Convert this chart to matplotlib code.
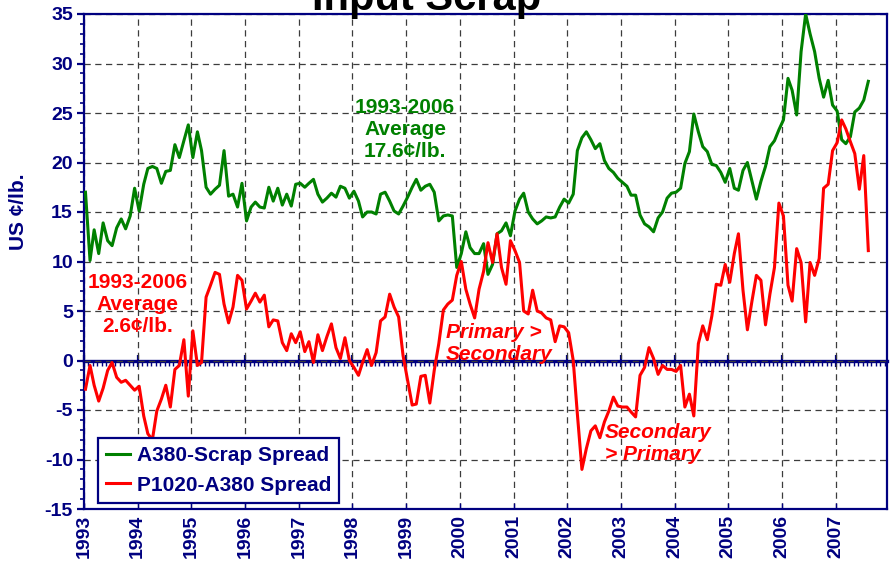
import numpy as np
import pandas as pd
import matplotlib
matplotlib.use("Agg")
import matplotlib.pyplot as plt
from matplotlib.ticker import MultipleLocator, FixedLocator, NullFormatter

# ---------------- data (monthly, Jan 1993 - Aug 2007, US cents/lb) ----------------
a380_scrap = [
    17.0, 10.1, 13.2, 10.8, 13.9, 12.1, 11.6, 13.4, 14.3, 13.3, 14.6, 17.4,   # 1993
    15.1, 17.8, 19.4, 19.6, 19.4, 17.9, 19.1, 19.2, 21.8, 20.5, 22.2, 23.8,   # 1994
    20.5, 23.1, 21.2, 17.5, 16.8, 17.3, 17.7, 21.2, 16.6, 16.8, 15.5, 17.9,   # 1995
    14.1, 15.5, 16.0, 15.5, 15.4, 17.5, 16.1, 17.4, 15.7, 16.8, 15.6, 17.8,   # 1996
    17.9, 17.5, 17.9, 18.3, 16.8, 16.0, 16.4, 16.9, 16.5, 17.6, 17.4, 16.4,   # 1997
    17.1, 16.1, 14.5, 15.0, 15.0, 14.8, 16.8, 17.0, 16.1, 15.1, 14.8, 15.6,   # 1998
    16.5, 17.5, 18.3, 17.2, 17.6, 17.8, 17.0, 14.1, 14.6, 14.7, 14.6, 9.4,    # 1999
    10.8, 13.0, 11.4, 10.8, 10.8, 11.8, 8.7, 9.7, 12.8, 13.1, 13.9, 12.6,     # 2000
    15.1, 16.3, 16.9, 15.0, 14.3, 13.8, 14.1, 14.5, 14.4, 14.5, 15.5, 16.3,   # 2001
    15.9, 16.8, 21.2, 22.5, 23.1, 22.3, 21.4, 21.9, 20.2, 19.4, 19.0, 18.4,   # 2002
    18.0, 17.6, 16.7, 16.7, 14.7, 13.8, 13.5, 13.0, 14.4, 15.0, 16.4, 16.9,   # 2003
    17.0, 17.4, 19.9, 21.1, 24.9, 23.1, 21.6, 21.1, 19.8, 19.7, 19.0, 18.0,   # 2004
    19.4, 17.4, 17.2, 19.2, 20.0, 18.1, 16.3, 18.1, 19.6, 21.6, 22.2, 23.3,   # 2005
    24.3, 28.5, 27.3, 24.8, 31.2, 35.0, 33.0, 31.2, 28.5, 26.6, 28.3, 25.8,   # 2006
    25.2, 22.3, 21.9, 22.6, 25.1, 25.5, 26.3, 28.2,                           # 2007
]
p1020_a380 = [
    -2.9, -0.5, -2.5, -4.1, -2.8, -1.0, -0.2, -1.7, -2.2, -2.0, -2.5, -3.0,   # 1993
    -2.6, -5.6, -7.4, -8.0, -5.1, -3.9, -2.5, -4.7, -0.9, -0.5, 2.1, -3.6,    # 1994
    3.0, -0.5, -0.2, 6.4, 7.6, 8.9, 8.7, 5.7, 3.8, 5.4, 8.6, 8.1,             # 1995
    5.2, 6.0, 6.8, 5.9, 6.6, 3.4, 4.1, 4.0, 1.8, 1.0, 2.7, 1.8,               # 1996
    2.9, 0.9, 1.9, -0.2, 2.6, 1.0, 2.4, 3.7, 1.3, 0.2, 2.3, 0.0,              # 1997
    -0.7, -1.5, -0.2, 1.1, -0.5, 0.8, 4.0, 4.4, 6.7, 5.4, 4.4, 0.5,           # 1998
    -2.0, -4.5, -4.4, -1.6, -1.5, -4.3, -1.0, 1.7, 5.1, 5.7, 6.1, 8.6,        # 1999
    10.0, 7.2, 5.7, 4.3, 7.2, 9.0, 11.9, 9.9, 12.8, 9.4, 7.7, 12.1,           # 2000
    11.1, 9.9, 5.0, 4.7, 7.1, 5.0, 4.8, 4.3, 4.1, 1.9, 3.5, 3.4,              # 2001
    2.8, 0.0, -5.4, -11.0, -8.9, -7.1, -6.6, -7.8, -6.2, -5.1, -3.7, -4.6,    # 2002
    -4.7, -4.7, -5.2, -5.7, -1.5, -0.7, 1.3, 0.2, -1.4, -0.5, -0.9, -0.9,     # 2003
    -1.1, -0.5, -4.7, -3.4, -5.6, 1.7, 3.5, 2.1, 4.5, 7.7, 7.6, 9.7,          # 2004
    7.9, 10.8, 12.8, 7.1, 3.1, 6.0, 8.6, 8.1, 3.6, 6.7, 9.4, 15.9,            # 2005
    14.6, 7.6, 6.0, 11.3, 9.9, 3.9, 9.9, 8.6, 10.3, 17.4, 17.8, 21.2,         # 2006
    22.0, 24.3, 23.4, 22.1, 20.9, 17.3, 20.7, 11.1,                           # 2007
]
series_names = ["A380-Scrap Spread", "P1020-A380 Spread"]
years = list(range(1993, 2008))
year_labels = [str(y) for y in years]

NAVY = "#000080"
GREEN = "#008000"
RED = "#FF0000"
FONT = "Liberation Sans"

plt.rcParams["font.family"] = [FONT, "DejaVu Sans"]
plt.rcParams["axes.unicode_minus"] = False

dates = pd.date_range("1993-01-01", periods=len(a380_scrap), freq="MS") + pd.Timedelta(days=10)
t = dates.year + (dates.dayofyear - 1) / np.where(dates.is_leap_year, 366, 365)

fig = plt.figure(figsize=(8.91, 5.76), dpi=100)
ax = fig.add_axes([84 / 891, 67 / 576, 803 / 891, 495 / 576])

ax.plot(t, a380_scrap, color=GREEN, lw=2.2, label=series_names[0], zorder=3)
ax.plot(t, p1020_a380, color=RED, lw=2.2, label=series_names[1], zorder=4)

ax.set_xlim(1993, 1993 + 803 / 53.69)
ax.set_ylim(-15, 35)

# grid
ax.set_axisbelow(True)
ax.xaxis.set_major_locator(FixedLocator(years))
ax.set_xticklabels(year_labels)
ax.yaxis.set_major_locator(MultipleLocator(5))
ax.yaxis.set_minor_locator(MultipleLocator(1))
ax.grid(True, which="major", color="#3c3c3c", lw=0.9, linestyle=(0, (5.0, 3.6)))

for s in ax.spines.values():
    s.set_color(NAVY)
    s.set_linewidth(1.6)

ax.tick_params(axis="y", which="major", direction="out", length=5, width=1.6,
               color=NAVY, labelcolor=NAVY, labelsize=14, pad=3)
ax.tick_params(axis="y", which="minor", direction="out", length=3, width=1.2, color=NAVY)
ax.tick_params(axis="x", which="major", direction="in", length=4, width=1.0,
               color=NAVY, labelcolor=NAVY, labelsize=14, pad=4, labelrotation=90)
for lab in ax.get_xticklabels() + ax.get_yticklabels():
    lab.set_fontweight("bold")

ax.set_ylabel("US ¢/lb.", color=NAVY, fontsize=15, fontweight="bold")
ax.yaxis.set_label_coords(-0.07, 0.6)

# zero axis with tick marks
zax = ax.secondary_xaxis(0.3)
zax.spines["bottom"].set_color(NAVY)
zax.spines["bottom"].set_linewidth(2.4)
zax.xaxis.set_major_locator(FixedLocator(years))
zax.xaxis.set_minor_locator(MultipleLocator(1 / 12))
zax.xaxis.set_major_formatter(NullFormatter())
zax.tick_params(axis="x", which="major", direction="inout", length=8, width=1.6, color=NAVY,
                labelbottom=False)
zax.tick_params(axis="x", which="minor", direction="out", length=3.5, width=1.0, color=NAVY)

# annotations
ax.text(1998.98, 23.3, "1993-2006\nAverage\n17.6¢/lb.", color=GREEN, fontsize=15,
        fontweight="bold", ha="center", va="center", linespacing=1.2)
ax.text(1994.0, 5.7, "1993-2006\nAverage\n2.6¢/lb.", color=RED, fontsize=15,
        fontweight="bold", ha="center", va="center", linespacing=1.2)
ax.text(1999.74, 1.7, "Primary >\nSecondary", color=RED, fontsize=15, fontweight="bold",
        fontstyle="italic", ha="left", va="center", linespacing=1.2)
ax.text(2002.70, -8.35, "Secondary\n> Primary", color=RED, fontsize=15, fontweight="bold",
        fontstyle="italic", ha="left", va="center", linespacing=1.2)

leg = ax.legend(loc="lower left", bbox_to_anchor=(0.0174, 0.012), borderaxespad=0,
                prop={"family": FONT, "weight": "bold", "size": 15}, labelcolor=NAVY,
                frameon=True, fancybox=False, handlelength=1.15, handletextpad=0.3,
                borderpad=0.4, labelspacing=0.5)
leg.get_frame().set_edgecolor(NAVY)
leg.get_frame().set_linewidth(1.6)
leg.get_frame().set_facecolor("white")
leg.get_frame().set_alpha(1)

fig.text(427 / 891, 1 - 10 / 576, "Input Scrap", ha="center", va="baseline",
         fontsize=30, fontweight="bold", color="black")

fig.savefig("out.png", dpi=100)
